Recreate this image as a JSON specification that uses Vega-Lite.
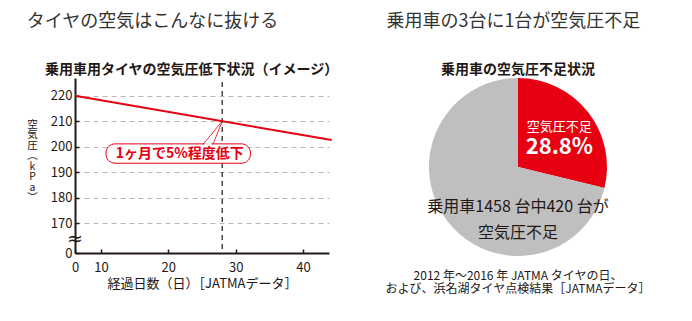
{
  "$schema": "https://vega.github.io/schema/vega-lite/v6.json",
  "background": "white",
  "padding": {"left": 26, "top": 13, "right": 0, "bottom": 0},
  "config": {
    "view": {"stroke": null},
    "font": "Noto Sans CJK JP",
    "axis": {"labelOverlap": false},
    "concat": {"spacing": 46}
  },
  "hconcat": [
    {
      "title": {"text": "タイヤの空気はこんなに抜ける", "anchor": "start", "fontSize": 18, "fontWeight": "normal", "color": "#333333", "offset": 32},
      "vconcat": [
        {
          "title": {"text": "乗用車用タイヤの空気圧低下状況（イメージ）", "anchor": "start", "frame": "group", "dx": -30, "fontSize": 14, "fontWeight": "bold", "color": "#231815", "offset": 1},
          "width": 254,
          "height": 175,
          "resolve": {"axis": {"x": "independent", "y": "independent"}},
          "layer": [
            {
              "data": {"values": [{}]},
              "mark": {"type": "rule", "color": "#231815", "strokeWidth": 1.2, "strokeDash": [5, 4]},
              "encoding": {
                "x": {"datum": 28, "type": "quantitative", "axis": null},
                "y": {"datum": 225.4, "type": "quantitative", "axis": null},
                "y2": {"datum": 0}
              }
            },
            {
              "data": {"values": [{"day": 0, "kpa": 220}, {"day": 44.26, "kpa": 202.6}]},
              "mark": {"type": "line", "color": "#e60012", "strokeWidth": 2},
              "encoding": {
                "x": {
                  "field": "day", "type": "quantitative",
                  "scale": {"domain": [0, 10, 43.86], "range": [0, 26, 254], "nice": false, "zero": false},
                  "axis": {
                    "values": [0, 10, 20, 30, 40],
                    "title": "経過日数（日）［JATMAデータ］",
                    "titleFontSize": 13, "titleFontWeight": "normal", "titleColor": "#231815", "titlePadding": 3,
                    "labelFontSize": 13, "labelColor": "#231815", "labelPadding": 12, "labelFlush": false,
                    "tickSize": -4, "tickWidth": 1.5, "tickColor": "#231815",
                    "domainColor": "#231815", "domainWidth": 2, "grid": false
                  }
                },
                "y": {
                  "field": "kpa", "type": "quantitative",
                  "scale": {"domain": [0, 170, 227], "range": [175, 145, 0], "nice": false, "zero": false},
                  "axis": {
                    "values": [0, 170, 180, 190, 200, 210, 220],
                    "title": ["空", "気", "圧", "︵", "k", "P", "a", "︶"],
                    "titleAngle": 0, "titleFontSize": 10.5, "titleFontWeight": "normal", "titleLineHeight": 10.5,
                    "titleColor": "#231815", "titleX": -43, "titleY": 46, "titleAlign": "center", "titleBaseline": "middle",
                    "labelFontSize": 13, "labelColor": "#231815", "labelPadding": 7, "labelFlush": false, "labelOverlap": false,
                    "tickSize": -4, "tickWidth": 1.5, "tickColor": "#231815",
                    "domainColor": "#231815", "domainWidth": 2,
                    "grid": true, "gridColor": "#b5b5b5", "gridDash": [5, 4], "gridWidth": 1,
                    "gridOpacity": {"condition": {"test": "datum.value == 0", "value": 0}, "value": 1}
                  }
                }
              }
            },
            {
              "data": {"values": [{}]},
              "mark": {"type": "rect", "fill": "white", "stroke": "#e60012", "strokeWidth": 1, "cornerRadius": 9},
              "encoding": {
                "x": {"datum": 10.74, "type": "quantitative", "axis": null},
                "x2": {"datum": 32.2},
                "y": {"datum": 201.1, "type": "quantitative", "axis": null},
                "y2": {"datum": 193.5}
              }
            },
            {
              "data": {"values": [{}]},
              "mark": {"type": "rule", "color": "white", "strokeWidth": 2},
              "encoding": {
                "x": {"datum": 25.4, "type": "quantitative", "axis": null},
                "x2": {"datum": 26.4},
                "y": {"datum": 201.1, "type": "quantitative", "axis": null},
                "y2": {"datum": 201.1}
              }
            },
            {
              "data": {"values": [{}]},
              "mark": {"type": "rule", "color": "#e60012", "strokeWidth": 0.8},
              "encoding": {
                "x": {"datum": 25.15, "type": "quantitative", "axis": null},
                "x2": {"datum": 28},
                "y": {"datum": 200.9, "type": "quantitative", "axis": null},
                "y2": {"datum": 210}
              }
            },
            {
              "data": {"values": [{}]},
              "mark": {"type": "rule", "color": "#e60012", "strokeWidth": 0.8},
              "encoding": {
                "x": {"datum": 26.63, "type": "quantitative", "axis": null},
                "x2": {"datum": 28},
                "y": {"datum": 200.9, "type": "quantitative", "axis": null},
                "y2": {"datum": 210}
              }
            },
            {
              "data": {"values": [{}]},
              "mark": {"type": "text", "text": "1ヶ月で5%程度低下", "fontSize": 14, "fontWeight": "bold", "color": "#e60012", "align": "center", "baseline": "middle"},
              "encoding": {
                "x": {"datum": 21.7, "type": "quantitative", "axis": null},
                "y": {"datum": 197.1, "type": "quantitative", "axis": null}
              }
            },
            {
              "data": {"values": [{}]},
              "mark": {"type": "text", "text": "≈", "fontSize": 19, "font": "DejaVu Sans", "color": "#231815", "align": "center", "baseline": "middle"},
              "encoding": {
                "x": {"datum": 0, "type": "quantitative", "axis": null},
                "y": {"datum": 80, "type": "quantitative", "axis": null}
              }
            }
          ]
        }
      ]
    },
    {
      "title": {"text": "乗用車の3台に1台が空気圧不足", "anchor": "start", "dx": 1, "fontSize": 18, "fontWeight": "normal", "color": "#333333", "offset": 32},
      "vconcat": [
        {
          "title": {"text": ["2012 年～2016 年 JATMA タイヤの日、", "および、浜名湖タイヤ点検結果［JATMAデータ］"], "orient": "bottom", "anchor": "middle", "fontSize": 12, "fontWeight": "normal", "color": "#231815", "offset": 15, "lineHeight": 13},
          "vconcat": [
            {
              "title": {"text": "乗用車の空気圧不足状況", "anchor": "middle", "fontSize": 14, "fontWeight": "bold", "color": "#231815", "offset": 1},
              "width": 260,
              "height": 178,
              "data": {"values": [
                {"category": "空気圧不足", "share": 28.8, "rank": 1, "line1": "空気圧不足", "line2": "28.8%"},
                {"category": "空気圧適正", "share": 71.2, "rank": 2, "line1": "乗用車1458 台中420 台が", "line2": "空気圧不足"}
              ]},
              "encoding": {
                "theta": {"field": "share", "type": "quantitative", "stack": true},
                "order": {"field": "rank", "type": "quantitative"},
                "detail": {"field": "category", "type": "nominal"}
              },
              "layer": [
                {
                  "mark": {"type": "arc", "outerRadius": 89},
                  "encoding": {
                    "color": {"field": "category", "type": "nominal", "scale": {"domain": ["空気圧不足", "空気圧適正"], "range": ["#e60012", "#bfbfbf"]}, "legend": null}
                  }
                },
                {
                  "mark": {"type": "text", "fontSize": 13, "color": "white", "dx": 2, "dy": -9, "align": "center", "baseline": "middle"},
                  "encoding": {
                    "radius": {"value": 50},
                    "text": {"condition": {"test": "datum.rank == 1", "field": "line1", "type": "nominal"}, "value": ""}
                  }
                },
                {
                  "mark": {"type": "text", "fontSize": 22, "fontWeight": "bold", "color": "white", "dx": 2, "dy": 11, "align": "center", "baseline": "middle"},
                  "encoding": {
                    "radius": {"value": 50},
                    "text": {"condition": {"test": "datum.rank == 1", "field": "line2", "type": "nominal"}, "value": ""}
                  }
                },
                {
                  "mark": {"type": "text", "fontSize": 16, "color": "#231815", "dy": 40, "align": "center", "baseline": "middle"},
                  "encoding": {
                    "radius": {"value": 0},
                    "text": {"condition": {"test": "datum.rank == 2", "field": "line1", "type": "nominal"}, "value": ""}
                  }
                },
                {
                  "mark": {"type": "text", "fontSize": 16, "color": "#231815", "dy": 66, "align": "center", "baseline": "middle"},
                  "encoding": {
                    "radius": {"value": 0},
                    "text": {"condition": {"test": "datum.rank == 2", "field": "line2", "type": "nominal"}, "value": ""}
                  }
                }
              ]
            }
          ]
        }
      ]
    }
  ]
}
